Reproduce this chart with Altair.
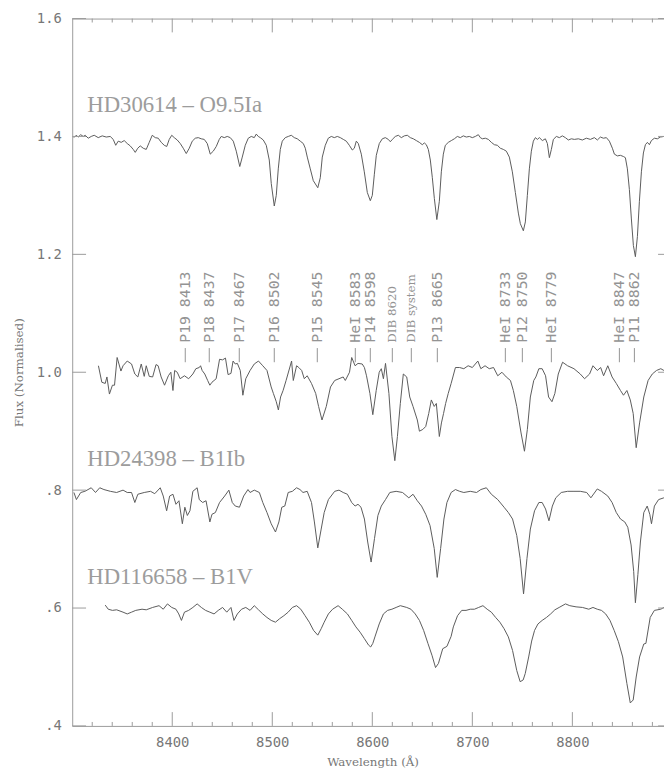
import altair as alt
import pandas as pd

# ---------------- data ----------------
XMIN, XMAX = 8300, 8891.6
YMIN, YMAX = 0.4, 1.6

hd30614 = [
    (8301.7, 1.398), (8304, 1.402), (8306, 1.399), (8308.5, 1.403), (8311, 1.400), (8313, 1.402),
    (8316, 1.397), (8319, 1.400), (8322, 1.402), (8326, 1.398), (8330, 1.401), (8334, 1.399),
    (8338, 1.400), (8341, 1.395), (8343.5, 1.385), (8346, 1.392), (8349, 1.390), (8352, 1.393),
    (8355, 1.388), (8358, 1.384), (8361, 1.378), (8363, 1.373), (8365.5, 1.380), (8368, 1.384),
    (8371, 1.380), (8374, 1.378), (8377, 1.390), (8380, 1.402), (8383, 1.398), (8386, 1.397),
    (8389, 1.390), (8392, 1.385), (8394.5, 1.383), (8397, 1.395), (8399.5, 1.402), (8402, 1.398),
    (8405, 1.394), (8408, 1.388), (8411, 1.380), (8414, 1.371), (8417, 1.380), (8420, 1.392),
    (8423, 1.397), (8426, 1.398), (8429, 1.396), (8432, 1.395), (8435, 1.388), (8438, 1.370),
    (8441, 1.375), (8444, 1.383), (8447, 1.395), (8449, 1.400), (8452, 1.398), (8455, 1.400),
    (8458, 1.398), (8461, 1.392), (8464, 1.375), (8467.5, 1.349), (8470, 1.365), (8473, 1.385),
    (8476, 1.397), (8479, 1.400), (8482, 1.398), (8484, 1.404), (8486, 1.400), (8488, 1.398),
    (8491, 1.394), (8494, 1.385), (8497, 1.360), (8499, 1.320), (8502, 1.282), (8504, 1.300),
    (8506, 1.345), (8508, 1.378), (8510, 1.392), (8513, 1.398), (8516, 1.400), (8519, 1.402),
    (8522, 1.398), (8525, 1.396), (8528, 1.392), (8531, 1.388), (8533, 1.380), (8535, 1.365),
    (8538, 1.345), (8541, 1.325), (8545.5, 1.313), (8548, 1.330), (8550, 1.365), (8553, 1.385),
    (8556, 1.397), (8559, 1.400), (8562, 1.398), (8565, 1.400), (8568, 1.398), (8571, 1.395),
    (8574, 1.392), (8577, 1.385), (8580, 1.377), (8582, 1.380), (8584, 1.392), (8586, 1.388),
    (8589, 1.370), (8592, 1.340), (8595, 1.305), (8598, 1.291), (8600, 1.300), (8602, 1.335),
    (8604, 1.368), (8607, 1.388), (8610, 1.396), (8613, 1.398), (8616, 1.395), (8618, 1.391),
    (8620, 1.395), (8623, 1.400), (8626, 1.402), (8629, 1.398), (8632, 1.401), (8635, 1.402),
    (8638, 1.398), (8641, 1.396), (8644, 1.393), (8647, 1.390), (8650, 1.386), (8652, 1.389),
    (8654, 1.386), (8656, 1.378), (8658, 1.360), (8660, 1.330), (8662, 1.295), (8664.5, 1.259),
    (8667, 1.290), (8669, 1.340), (8671, 1.370), (8673, 1.385), (8676, 1.390), (8679, 1.393),
    (8682, 1.396), (8685, 1.400), (8688, 1.398), (8691, 1.401), (8694, 1.399), (8697, 1.400),
    (8700, 1.398), (8703, 1.400), (8706, 1.403), (8708, 1.398), (8710, 1.396), (8713, 1.397),
    (8716, 1.395), (8719, 1.390), (8722, 1.386), (8725, 1.385), (8728, 1.380), (8731, 1.378),
    (8734, 1.375), (8737, 1.365), (8740, 1.340), (8743, 1.305), (8746, 1.270), (8748, 1.252),
    (8751, 1.240), (8753, 1.255), (8755, 1.300), (8757, 1.345), (8759, 1.375), (8761, 1.392),
    (8763, 1.398), (8765, 1.395), (8767, 1.398), (8770, 1.393), (8773, 1.396), (8775, 1.388),
    (8777, 1.364), (8779, 1.378), (8781, 1.395), (8784, 1.400), (8787, 1.398), (8790, 1.401),
    (8793, 1.398), (8796, 1.394), (8799, 1.396), (8802, 1.395), (8806, 1.396), (8810, 1.394),
    (8814, 1.397), (8818, 1.395), (8822, 1.398), (8825, 1.394), (8828, 1.399), (8831, 1.397),
    (8834, 1.398), (8837, 1.392), (8840, 1.380), (8842, 1.370), (8845, 1.367), (8848, 1.368),
    (8851, 1.366), (8853, 1.364), (8855, 1.345), (8857, 1.310), (8859, 1.260), (8861, 1.215),
    (8863, 1.196), (8865, 1.230), (8867, 1.290), (8869, 1.340), (8871, 1.372), (8873, 1.386),
    (8875, 1.390), (8877, 1.386), (8879, 1.393), (8882, 1.397), (8885, 1.396), (8888, 1.399),
    (8891.5, 1.400),
]

target = [
    (8326.2, 1.011), (8329.6, 0.983), (8333, 0.981), (8334.7, 0.992), (8337.2, 0.963), (8340.2, 0.978),
    (8342.3, 0.978), (8344.9, 1.025), (8348.7, 1.002), (8350.8, 1.011), (8355, 1.019), (8359.3, 1.014),
    (8362.6, 0.997), (8365.6, 0.992), (8369, 1.014), (8372, 0.993), (8374, 1.011), (8377, 0.993),
    (8380.4, 0.992), (8383.8, 1.013), (8385.9, 1.011), (8388.9, 0.992), (8392.3, 0.978), (8396.1, 0.994),
    (8398.6, 1.000), (8400.7, 0.969), (8402.4, 1.003), (8405, 1.000), (8407.9, 0.989), (8412.2, 0.994),
    (8416.4, 0.989), (8420.6, 0.997), (8423.6, 1.006), (8427, 1.008), (8428.3, 1.011), (8429.9, 1.003),
    (8432.5, 0.997), (8435.4, 0.986), (8437.6, 0.978), (8439.7, 0.983), (8443.9, 0.989), (8447.3, 1.022),
    (8450.3, 1.021), (8453.2, 1.024), (8455.8, 0.996), (8458.7, 0.998), (8460.8, 1.019), (8463, 1.014),
    (8465.1, 1.015), (8468, 1.003), (8470.6, 0.961), (8473.5, 0.989), (8477.8, 1.003), (8482, 1.014),
    (8486.2, 1.019), (8490.5, 1.011), (8494.7, 1.003), (8498.9, 0.975), (8501.1, 0.964), (8504, 0.950),
    (8506.1, 0.936), (8508.3, 0.958), (8510.8, 0.969), (8513.8, 0.986), (8519.3, 1.019), (8521, 0.986),
    (8524.3, 1.011), (8526.5, 1.008), (8529.4, 1.003), (8532, 0.989), (8534.9, 0.994), (8539.2, 0.981),
    (8543.4, 0.964), (8546.3, 0.942), (8549.7, 0.919), (8554, 0.942), (8558.2, 0.975), (8562.4, 0.986),
    (8566.7, 0.989), (8570.9, 0.992), (8573, 0.986), (8577.2, 1.000), (8579.4, 1.025), (8582.8, 1.011),
    (8585.7, 1.015), (8589.9, 1.014), (8592.1, 1.008), (8594.2, 0.994), (8597.6, 0.964), (8600.5, 0.928),
    (8603.9, 0.969), (8606.9, 1.000), (8609, 1.006), (8611.1, 0.989), (8613.2, 1.015), (8616.6, 0.964),
    (8619.6, 0.891), (8622.5, 0.850), (8625.1, 0.891), (8628, 0.947), (8631, 0.997), (8634.4, 0.992),
    (8637.4, 0.958), (8640.7, 0.942), (8645, 0.919), (8647.1, 0.900), (8650.5, 0.903), (8653.4, 0.908),
    (8656.4, 0.930), (8659, 0.953), (8661.9, 0.942), (8664, 0.947), (8667, 0.891), (8669.1, 0.914),
    (8671.2, 0.930), (8673.3, 0.947), (8675.9, 0.964), (8678.8, 0.981), (8683.1, 1.008), (8687.3, 1.008),
    (8691.5, 1.006), (8695.8, 1.011), (8700, 1.008), (8705.5, 1.019), (8708.5, 1.006), (8712.7, 1.011),
    (8716.9, 1.006), (8721.2, 1.008), (8725.4, 0.994), (8729.6, 1.000), (8733.9, 0.992), (8738.1, 0.986),
    (8741, 0.969), (8744.4, 0.942), (8748.7, 0.897), (8752.1, 0.866), (8755, 0.903), (8758, 0.958),
    (8761.4, 0.986), (8763.5, 0.992), (8766.5, 1.006), (8769.8, 1.006), (8773.2, 0.994), (8776.2, 0.958),
    (8779.6, 0.950), (8782.5, 0.964), (8785.9, 0.997), (8790.2, 1.017), (8795.2, 1.011), (8801.6, 1.006),
    (8807.9, 0.997), (8812.2, 0.989), (8817.2, 0.997), (8820.6, 1.011), (8824.9, 1.003), (8828.3, 1.008),
    (8831.2, 0.994), (8835.4, 1.011), (8839.7, 0.992), (8843.9, 0.981), (8848.1, 0.969), (8851.1, 0.961),
    (8854.5, 0.969), (8857.9, 0.953), (8860.8, 0.930), (8863.8, 0.872), (8867.2, 0.914), (8871.4, 0.958),
    (8875.7, 0.986), (8879.9, 0.997), (8884.1, 1.003), (8888.4, 1.006), (8891.5, 1.003),
]

hd24398 = [
    (8301.7, 0.796), (8304.2, 0.784), (8308.5, 0.796), (8312.7, 0.798), (8319, 0.804), (8323.3, 0.796),
    (8327.5, 0.804), (8331.7, 0.801), (8338.1, 0.798), (8344.4, 0.796), (8350.8, 0.800), (8355, 0.796),
    (8359.3, 0.796), (8362.6, 0.779), (8365.6, 0.793), (8372, 0.796), (8378.3, 0.798), (8382.5, 0.794),
    (8388, 0.804), (8391, 0.790), (8394.4, 0.765), (8397.4, 0.790), (8400.7, 0.793), (8403.7, 0.776),
    (8406.7, 0.782), (8410.1, 0.743), (8412.6, 0.771), (8415.1, 0.757), (8417.7, 0.765), (8420.6, 0.798),
    (8424.9, 0.804), (8427, 0.784), (8430.4, 0.779), (8433.8, 0.782), (8437.6, 0.746), (8439.7, 0.759),
    (8443.1, 0.762), (8447.3, 0.779), (8452.4, 0.790), (8456.6, 0.800), (8460, 0.779), (8463, 0.773),
    (8467.2, 0.771), (8471.4, 0.790), (8475.7, 0.801), (8477.8, 0.796), (8482, 0.800), (8487.1, 0.796),
    (8490.5, 0.779), (8494.7, 0.762), (8498.9, 0.743), (8503.2, 0.729), (8506.6, 0.746), (8509.5, 0.771),
    (8512.5, 0.773), (8515.9, 0.796), (8520.1, 0.798), (8524.3, 0.804), (8527.7, 0.801), (8530.7, 0.796),
    (8534.9, 0.798), (8539.2, 0.779), (8542.1, 0.746), (8545.5, 0.702), (8548.9, 0.734), (8551.9, 0.762),
    (8556.1, 0.784), (8562.4, 0.798), (8566.7, 0.800), (8570.9, 0.796), (8575.1, 0.793), (8579.4, 0.779),
    (8582.8, 0.773), (8585.7, 0.776), (8588.7, 0.771), (8592.1, 0.751), (8595.4, 0.712), (8598.8, 0.678),
    (8602.2, 0.718), (8605.6, 0.757), (8609, 0.773), (8613.2, 0.784), (8617.5, 0.796), (8623.8, 0.798),
    (8630.2, 0.796), (8636.5, 0.787), (8640.7, 0.793), (8645, 0.782), (8649.2, 0.773), (8653.4, 0.759),
    (8657.7, 0.740), (8661.9, 0.701), (8664.9, 0.652), (8668.3, 0.701), (8671.6, 0.751), (8674.6, 0.779),
    (8678.8, 0.796), (8683.1, 0.801), (8687.3, 0.798), (8691.5, 0.796), (8697.9, 0.798), (8704.2, 0.796),
    (8708.5, 0.801), (8714, 0.804), (8719, 0.793), (8725.4, 0.784), (8731.7, 0.771), (8736, 0.762),
    (8740.2, 0.751), (8744.4, 0.723), (8747.8, 0.684), (8751.2, 0.624), (8754.6, 0.684), (8758, 0.734),
    (8762.2, 0.765), (8766.5, 0.779), (8769.8, 0.779), (8773.2, 0.768), (8776.6, 0.748), (8780, 0.773),
    (8783.4, 0.787), (8788.9, 0.796), (8795.2, 0.798), (8801.6, 0.798), (8807.9, 0.798), (8814.3, 0.796),
    (8818.5, 0.787), (8824.9, 0.802), (8829.1, 0.798), (8835.4, 0.790), (8839.7, 0.779), (8843.9, 0.762),
    (8848.1, 0.751), (8852.4, 0.746), (8855.4, 0.737), (8858.7, 0.707), (8861.3, 0.662), (8863, 0.609),
    (8865.5, 0.657), (8868, 0.712), (8871.4, 0.762), (8874.8, 0.773), (8877.4, 0.759), (8879.1, 0.743),
    (8882, 0.773), (8886.2, 0.784), (8891.5, 0.787),
]

hd116658 = [
    (8333, 0.605), (8336, 0.598), (8340.2, 0.596), (8344.4, 0.597), (8350.8, 0.593), (8355, 0.590),
    (8359.3, 0.593), (8363.5, 0.596), (8369.8, 0.598), (8374, 0.597), (8380.4, 0.601), (8386.8, 0.604),
    (8391, 0.598), (8395.2, 0.607), (8399.5, 0.601), (8403.7, 0.598), (8406.5, 0.590), (8409.2, 0.579),
    (8412.2, 0.593), (8416.4, 0.596), (8420.6, 0.601), (8424.9, 0.607), (8429.1, 0.601), (8433.3, 0.596),
    (8437.6, 0.593), (8441.8, 0.590), (8446, 0.596), (8450.3, 0.601), (8454.5, 0.593), (8458.7, 0.601),
    (8461.7, 0.579), (8465.1, 0.590), (8469.3, 0.598), (8473.5, 0.601), (8477.8, 0.596), (8482, 0.604),
    (8486.2, 0.597), (8490.5, 0.590), (8494.7, 0.584), (8498.9, 0.579), (8503.2, 0.576), (8507.4, 0.582),
    (8511.6, 0.587), (8515.9, 0.593), (8520.1, 0.601), (8524.3, 0.604), (8528.5, 0.598), (8532.8, 0.587),
    (8537, 0.576), (8541.3, 0.562), (8545.5, 0.554), (8548.9, 0.565), (8551.9, 0.576), (8556.1, 0.590),
    (8560.3, 0.598), (8565.8, 0.604), (8570, 0.598), (8575.1, 0.590), (8579.4, 0.579), (8583.6, 0.568),
    (8587.8, 0.559), (8592.1, 0.548), (8596.3, 0.537), (8598.4, 0.534), (8600.5, 0.540), (8602.6, 0.551),
    (8606.9, 0.573), (8611.1, 0.590), (8615.3, 0.596), (8619.6, 0.598), (8623.8, 0.601), (8628, 0.604),
    (8634.4, 0.601), (8638.6, 0.598), (8642.9, 0.590), (8647.1, 0.579), (8651.3, 0.562), (8655.6, 0.540),
    (8659.8, 0.519), (8663.2, 0.499), (8666.1, 0.506), (8670.4, 0.531), (8674.6, 0.535), (8678.8, 0.552),
    (8681, 0.568), (8685.2, 0.587), (8689.4, 0.596), (8693.7, 0.596), (8697.9, 0.598), (8702.1, 0.598),
    (8706.3, 0.601), (8710.6, 0.604), (8714.8, 0.598), (8719, 0.593), (8723.3, 0.584), (8727.5, 0.576),
    (8731.7, 0.565), (8736, 0.551), (8740.2, 0.528), (8744.4, 0.494), (8747.8, 0.475), (8750.8, 0.478),
    (8752.9, 0.489), (8756.3, 0.517), (8759.3, 0.544), (8762.2, 0.562), (8765.6, 0.573), (8769.8, 0.579),
    (8774.1, 0.584), (8778.3, 0.590), (8782.5, 0.597), (8786.8, 0.601), (8793.1, 0.607), (8797.4, 0.604),
    (8803.7, 0.602), (8810.1, 0.601), (8816.4, 0.598), (8820.6, 0.601), (8824.9, 0.598), (8829.1, 0.596),
    (8833.3, 0.590), (8837.6, 0.579), (8841.8, 0.562), (8846, 0.543), (8850.3, 0.517), (8854.5, 0.472),
    (8857.9, 0.439), (8860.8, 0.444), (8863.8, 0.483), (8867.2, 0.517), (8871.4, 0.539), (8873.5, 0.540),
    (8877.8, 0.584), (8882, 0.596), (8888.4, 0.598), (8891.5, 0.601),
]

line_names = ["P19 8413", "P18 8437", "P17 8467", "P16 8502", "P15 8545", "HeI 8583", "P14 8598",
              "P13 8665", "HeI 8733", "P12 8750", "HeI 8779", "HeI 8847", "P11 8862"]
line_wl = [8413, 8437, 8467, 8502, 8545, 8583, 8598, 8665, 8733, 8750, 8779, 8847, 8862]
dib_names = ["DIB 8620", "DIB system"]
dib_wl = [8620, 8639]

star_names = ["HD30614 \u2013 O9.5Ia", "HD24398 \u2013 B1Ib", "HD116658 \u2013 B1V"]
star_label_wl = [8315, 8315, 8315]
star_label_flux = [1.441, 0.841, 0.640]

x_major = [8400, 8500, 8600, 8700, 8800]
x_minor = [8320, 8340, 8360, 8380, 8420, 8440, 8460, 8480, 8520, 8540, 8560, 8580,
           8620, 8640, 8660, 8680, 8720, 8740, 8760, 8780, 8820, 8840, 8860, 8880]
y_major = [0.4, 0.6, 0.8, 1.0, 1.2, 1.4, 1.6]

# ---------------- styling ----------------
W, H = 599, 716
MONO = "DejaVu Sans Mono"
SERIF = "DejaVu Serif"
AXC = "#9a9a9a"
TXT = "#777777"
LINE = "#5a5a5a"
LBL = "#939393"
LABEL_TICK = (1.017, 1.041)
LABEL_START = 1.050
MAJOR_LEN, MINOR_LEN, RIGHT_LEN = 14, 4, 6          # tick lengths in pixels
PX_X = (XMAX - XMIN) / W                             # data units per pixel
PX_Y = (YMAX - YMIN) / H

xs = alt.Scale(domain=[XMIN, XMAX], nice=False, zero=False)
ys = alt.Scale(domain=[YMIN, YMAX], nice=False, zero=False)

x_main = alt.Axis(orient="bottom", values=x_major, format="d", ticks=False, domain=True,
                  domainColor=AXC, domainWidth=1, grid=False,
                  labelFont=MONO, labelFontSize=14, labelColor=TXT, labelPadding=10,
                  labelFlush=False, labelOverlap=False,
                  title="Wavelength (\u00c5)", titleFont=SERIF, titleFontSize=12,
                  titleFontWeight="normal", titleColor=TXT, titlePadding=7, titleX=304)
y_main = alt.Axis(orient="left", values=y_major, ticks=False, domain=True, domainColor=AXC,
                  domainWidth=1, grid=False,
                  labelExpr="datum.value < 1 ? replace(format(datum.value, '.1f'), '0.', '.') : format(datum.value, '.1f')",
                  labelFont=MONO, labelFontSize=14, labelColor=TXT, labelPadding=11,
                  labelFlush=False, labelOverlap=False,
                  title="Flux (Normalised)", titleFont=SERIF, titleFontSize=12,
                  titleFontWeight="normal", titleColor=TXT, titlePadding=11)


def X(field):
    return alt.X(field, scale=xs, axis=x_main)


def Y(field):
    return alt.Y(field, scale=ys, axis=y_main)


# ---- one long table: the four spectra plus the inward frame ticks as 2-point segments ----
rows = []
for name, pts in [("HD30614", hd30614), ("target", target), ("HD24398", hd24398), ("HD116658", hd116658)]:
    for wl, fl in pts:
        rows.append((name, "spectrum", wl, fl))

segments = []
for v in x_major:
    segments.append(((v, YMIN), (v, YMIN + MAJOR_LEN * PX_Y)))
    segments.append(((v, YMAX), (v, YMAX - MAJOR_LEN * PX_Y)))
for v in x_minor:
    segments.append(((v, YMIN), (v, YMIN + MINOR_LEN * PX_Y)))
    segments.append(((v, YMAX), (v, YMAX - MINOR_LEN * PX_Y)))
for v in y_major:
    segments.append(((XMIN, v), (XMIN + MAJOR_LEN * PX_X, v)))
    segments.append(((XMAX - RIGHT_LEN * PX_X, v), (XMAX, v)))
top_edge = YMAX - 0.5 * PX_Y
segments.append(((XMIN, top_edge), (XMAX, top_edge)))
for i, (a, b) in enumerate(segments):
    rows.append((f"frame{i}", "frame", a[0], a[1]))
    rows.append((f"frame{i}", "frame", b[0], b[1]))

line_df = pd.DataFrame(rows, columns=["seg", "kind", "wl", "flux"])
lines = alt.Chart(line_df).mark_line(strokeWidth=1).encode(
    x=X("wl:Q"),
    y=Y("flux:Q"),
    detail="seg:N",
    color=alt.Color("kind:N", scale=alt.Scale(domain=["spectrum", "frame"], range=[LINE, AXC]),
                    legend=None),
)

ticks_df = pd.DataFrame({"wl": line_wl + dib_wl})
ticks_df["y1"] = LABEL_TICK[0]
ticks_df["y2"] = LABEL_TICK[1]
rules = alt.Chart(ticks_df).mark_rule(color=LBL, strokeWidth=1).encode(
    x=X("wl:Q"), y=Y("y1:Q"), y2="y2:Q")

lab_df = pd.DataFrame({"wl": line_wl, "name": line_names})
lab_df["y"] = LABEL_START
labels = alt.Chart(lab_df).mark_text(angle=270, align="left", baseline="middle", font=MONO,
                                      fontSize=15, color=LBL).encode(
    x=X("wl:Q"), y=Y("y:Q"), text="name:N")

dib_df = pd.DataFrame({"wl": dib_wl, "name": dib_names})
dib_df["y"] = LABEL_START
dibs = alt.Chart(dib_df).mark_text(angle=270, align="left", baseline="middle", font=SERIF,
                                   fontSize=12, color=LBL).encode(
    x=X("wl:Q"), y=Y("y:Q"), text="name:N")

star_df = pd.DataFrame({"wl": star_label_wl, "flux": star_label_flux, "name": star_names})
stars = alt.Chart(star_df).mark_text(align="left", baseline="alphabetic", font="Liberation Serif",
                                     fontSize=23, color="#9c9c9c").encode(
    x=X("wl:Q"), y=Y("flux:Q"), text="name:N")

chart = alt.layer(lines, rules, labels, dibs, stars).properties(
    width=W, height=H,
    autosize=alt.AutoSizeParams(type="none"),
    padding={"left": 65, "top": 6, "right": 0, "bottom": 46},
    background="white",
).configure_view(stroke="transparent")

chart.save("out.html", embed_options={"renderer": "svg", "actions": False})
